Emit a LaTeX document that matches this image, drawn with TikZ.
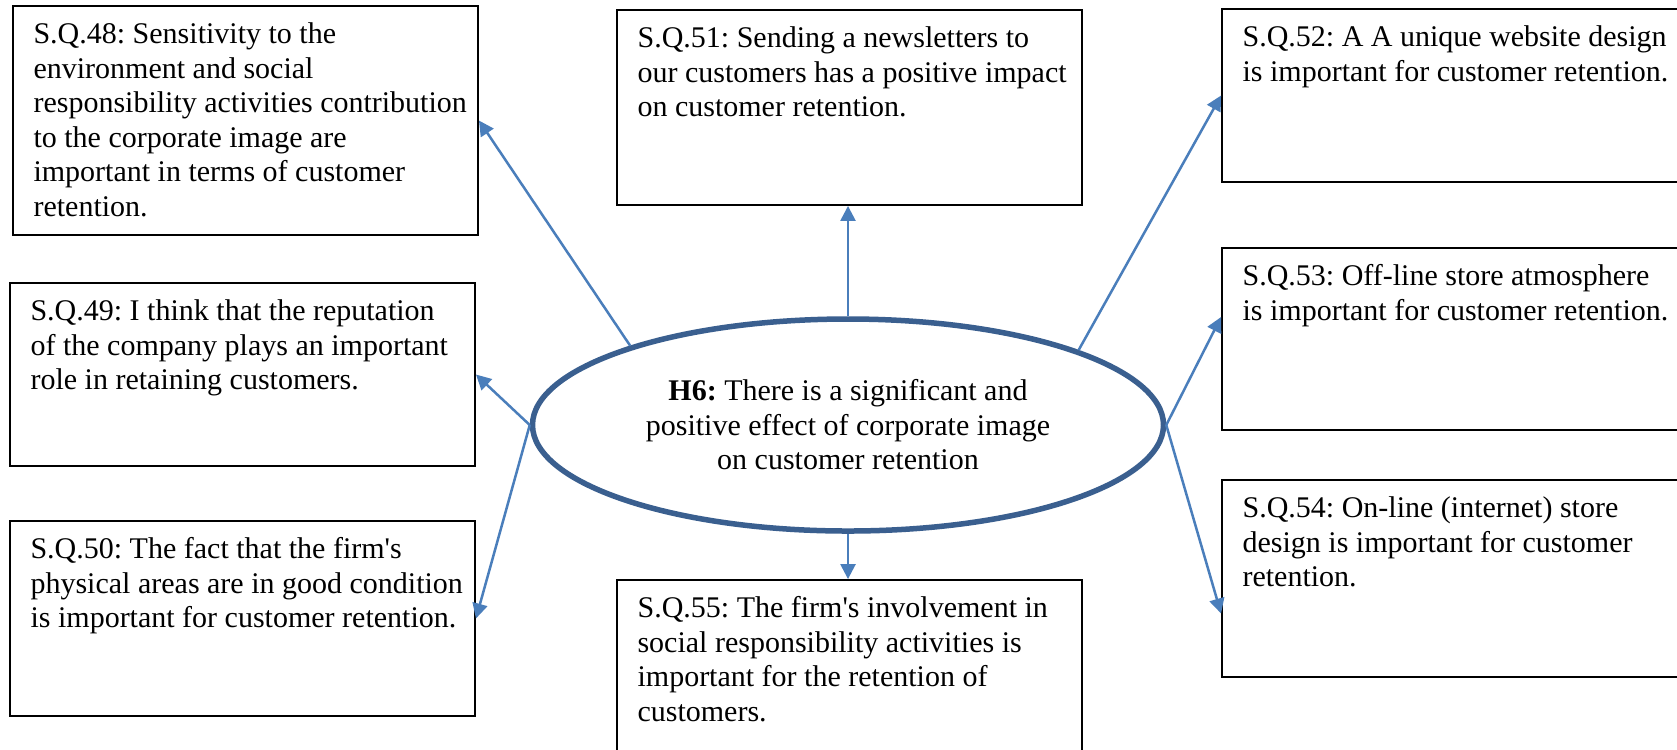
\documentclass[tikz,border=0pt]{standalone}
\usepackage{fontspec}
\setmainfont{Liberation Serif}
\usetikzlibrary{fit,calc,shapes.geometric,arrows.meta}
\definecolor{ellcol}{HTML}{3A5F8F}
\definecolor{arrcol}{HTML}{4A7EBB}
\frenchspacing
\begin{document}
\begin{tikzpicture}[x=0.4pt,y=-0.4pt,
  qbox/.style={draw=black,line width=0.75pt,inner sep=0pt,rectangle},
  qtext/.style={anchor=north west,align=left,inner sep=0pt,font=\fontsize{12pt}{13.8pt}\selectfont},
  hypo/.style={ellipse,draw=ellcol,line width=2.2pt,fill=white,minimum width=252.4pt,minimum height=84.8pt,align=center,inner sep=0pt,font=\fontsize{12pt}{13.8pt}\selectfont},
  conn/.style={draw=arrcol,line width=1pt,-{Triangle[length=6pt,width=6pt]}}]
\useasboundingbox (0,0) rectangle (1677,749);
\fill[white] (0,0) rectangle (1677,749);
\clip (0,0) rectangle (1677,749);

% boxes
\node[qbox, fit={(13,6) (478,235)}] (b48) {};
\node[qbox, fit={(10,283) (475,466)}] (b49) {};
\node[qbox, fit={(10,521) (475,716)}] (b50) {};
\node[qbox, fit={(617,10) (1082,205)}] (b51) {};
\node[qbox, fit={(1222,9) (1700,182)}] (b52) {};
\node[qbox, fit={(1222,248) (1700,430)}] (b53) {};
\node[qbox, fit={(1222,480) (1700,677)}] (b54) {};
\node[qbox, fit={(617,580) (1082,770)}] (b55) {};

% texts
\node[qtext] (t48) at ($(b48.north west)+(21,14)$) {\strut S.Q.48: Sensitivity to the\\environment and social\\responsibility activities contribution\\to the corporate image are\\important in terms of customer\\retention.};
\node[qtext] (t49) at ($(b49.north west)+(21,14)$) {\strut S.Q.49: I think that the reputation\\of the company plays an important\\role in retaining customers.};
\node[qtext] (t50) at ($(b50.north west)+(21,14)$) {\strut S.Q.50: The fact that the firm\textquotesingle s\\physical areas are in good condition\\is important for customer retention.};
\node[qtext] (t51) at ($(b51.north west)+(21,14)$) {\strut S.Q.51: Sending a newsletters to\\our customers has a positive impact\\on customer retention.};
\node[qtext] (t52) at ($(b52.north west)+(21,14)$) {\strut S.Q.52: A A unique website design\\is important for customer retention.};
\node[qtext] (t53) at ($(b53.north west)+(21,14)$) {\strut S.Q.53: Off-line store atmosphere\\is important for customer retention.};
\node[qtext] (t54) at ($(b54.north west)+(21,14)$) {\strut S.Q.54: On-line (internet) store\\design is important for customer\\retention.};
\node[qtext] (t55) at ($(b55.north west)+(21,14)$) {\strut S.Q.55: The firm\textquotesingle s involvement in\\social responsibility activities is\\important for the retention of\\customers.};

% hypothesis
\node[hypo] (ell) at (848,425) {\textbf{H6:} There is a significant and\\positive effect of corporate image\\on customer retention};

% connectors
\draw[conn] (ell.160.9) -- (b48.east);
\draw[conn] (ell.north) -- (ell.north |- b51.south);
\draw[conn] (ell.18.9) -- (b52.west);
\draw[conn] (ell.west) -- (b49.east);
\draw[conn] (ell.west) -- (b50.east);
\draw[conn] (ell.east) -- ([yshift=8.8pt]b53.west);
\draw[conn] (ell.east) -- ([yshift=-14pt]b54.west);
\draw[conn] (ell.south) -- (ell.south |- b55.north);
\end{tikzpicture}
\end{document}
